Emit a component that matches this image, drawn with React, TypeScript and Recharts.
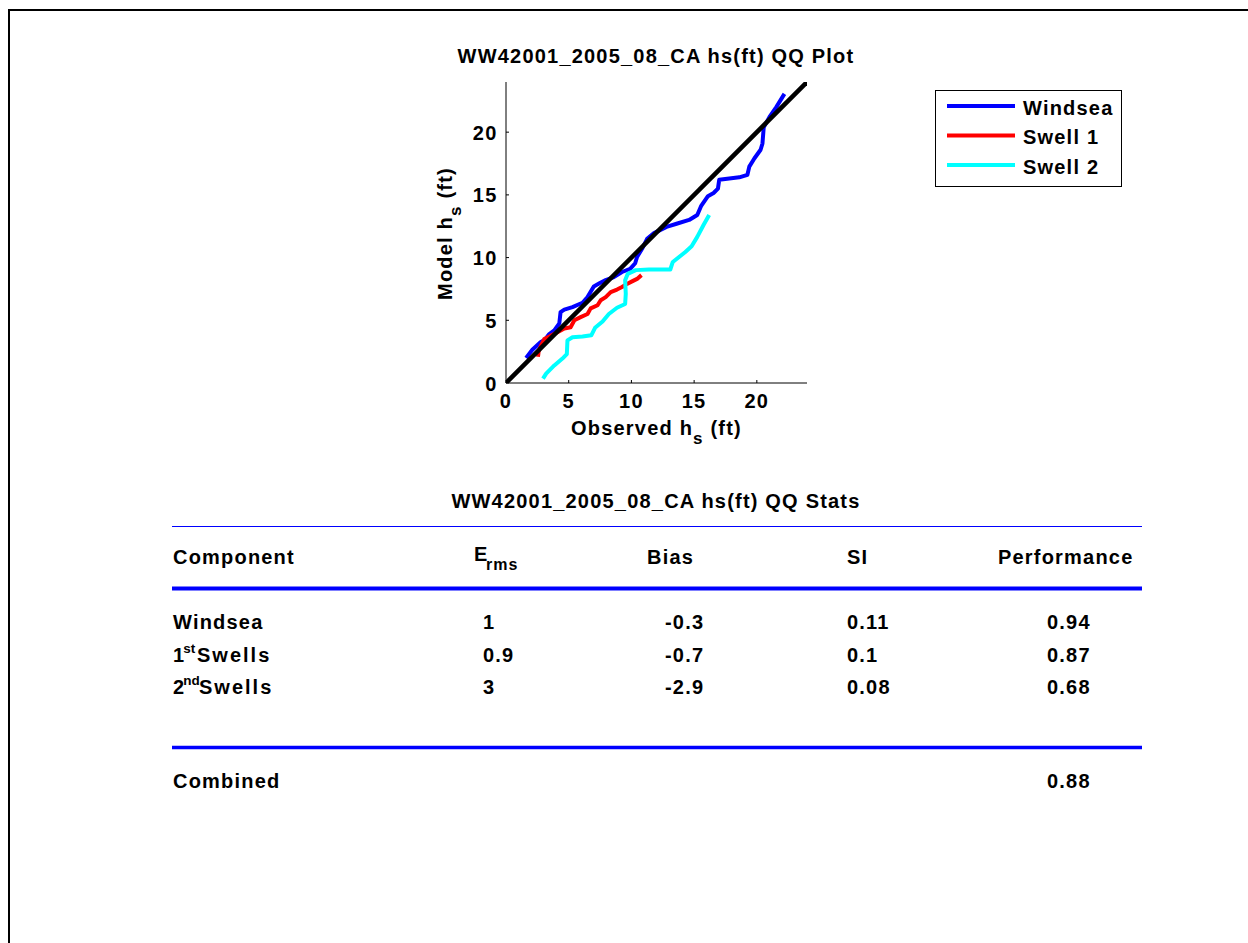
import React from 'react';
import { LineChart, Line, XAxis, YAxis, Legend } from 'recharts';

const FONT = '"Liberation Sans", Arial, Helvetica, sans-serif';

const windsea = [
  { x: 1.6, y: 2.0 }, { x: 2.1, y: 2.65 }, { x: 2.75, y: 3.25 }, { x: 3.1, y: 3.45 },
  { x: 3.45, y: 3.9 }, { x: 3.85, y: 4.2 }, { x: 4.25, y: 4.75 }, { x: 4.35, y: 5.65 },
  { x: 4.65, y: 5.85 }, { x: 5.3, y: 6.05 }, { x: 6.1, y: 6.4 }, { x: 6.5, y: 6.85 },
  { x: 7.0, y: 7.7 }, { x: 7.45, y: 7.95 }, { x: 7.95, y: 8.2 }, { x: 8.6, y: 8.45 },
  { x: 9.25, y: 8.85 }, { x: 9.9, y: 9.1 }, { x: 10.3, y: 9.55 }, { x: 10.45, y: 10.05 },
  { x: 10.85, y: 10.7 }, { x: 11.25, y: 11.5 }, { x: 11.8, y: 11.95 }, { x: 12.8, y: 12.45 },
  { x: 13.6, y: 12.7 }, { x: 14.6, y: 13.0 }, { x: 15.25, y: 13.4 }, { x: 15.55, y: 14.1 },
  { x: 16.1, y: 14.9 }, { x: 16.55, y: 15.15 }, { x: 16.9, y: 15.5 }, { x: 17.0, y: 16.2 },
  { x: 17.8, y: 16.3 }, { x: 18.6, y: 16.4 }, { x: 19.25, y: 16.6 }, { x: 19.4, y: 17.25 },
  { x: 19.8, y: 17.9 }, { x: 20.3, y: 18.6 }, { x: 20.45, y: 19.1 }, { x: 20.55, y: 20.4 },
  { x: 21.0, y: 21.2 }, { x: 21.55, y: 22.0 }, { x: 22.2, y: 23.05 },
];

const swell1 = [
  { x: 2.55, y: 2.1 }, { x: 2.6, y: 2.5 }, { x: 2.75, y: 2.9 }, { x: 3.05, y: 3.5 },
  { x: 3.45, y: 3.7 }, { x: 4.1, y: 4.05 }, { x: 4.65, y: 4.35 }, { x: 5.15, y: 4.45 },
  { x: 5.45, y: 5.0 }, { x: 5.95, y: 5.25 }, { x: 6.5, y: 5.5 }, { x: 6.75, y: 5.95 },
  { x: 7.3, y: 6.2 }, { x: 7.55, y: 6.6 }, { x: 7.95, y: 6.85 }, { x: 8.35, y: 7.25 },
  { x: 8.85, y: 7.45 }, { x: 9.25, y: 7.65 }, { x: 9.65, y: 7.9 }, { x: 10.05, y: 8.1 },
  { x: 10.45, y: 8.3 }, { x: 10.8, y: 8.6 },
];

const swell2 = [
  { x: 2.95, y: 0.35 }, { x: 3.2, y: 0.75 }, { x: 3.85, y: 1.4 }, { x: 4.5, y: 1.95 },
  { x: 4.85, y: 2.3 }, { x: 4.9, y: 3.4 }, { x: 5.3, y: 3.65 }, { x: 6.1, y: 3.7 },
  { x: 6.8, y: 3.8 }, { x: 7.1, y: 4.4 }, { x: 7.7, y: 4.9 }, { x: 8.2, y: 5.5 },
  { x: 8.85, y: 6.0 }, { x: 9.5, y: 6.3 }, { x: 9.55, y: 7.1 }, { x: 9.5, y: 8.2 },
  { x: 9.7, y: 8.7 }, { x: 10.35, y: 9.0 }, { x: 11.4, y: 9.05 }, { x: 12.45, y: 9.05 },
  { x: 13.1, y: 9.05 }, { x: 13.3, y: 9.65 }, { x: 13.8, y: 10.05 }, { x: 14.3, y: 10.45 },
  { x: 14.8, y: 10.9 }, { x: 15.25, y: 11.65 }, { x: 15.75, y: 12.6 }, { x: 16.2, y: 13.4 },
];

const diagonal = [{ x: 0, y: 0 }, { x: 24, y: 24 }];
const axisTicks = [0, 5, 10, 15, 20];
const seriesNames = ['Windsea', 'Swell 1', 'Swell 2'];

const plotTitle = 'WW42001_2005_08_CA hs(ft) QQ Plot';
const tableTitle = 'WW42001_2005_08_CA hs(ft) QQ Stats';
// [base, superscript, rest]
const rowNames = [['Windsea', '', ''], ['1', 'st', 'Swells'], ['2', 'nd', 'Swells']];
const ermsValues = ['1', '0.9', '3'];
const biasValues = ['-0.3', '-0.7', '-2.9'];
const siValues = ['0.11', '0.1', '0.08'];
const perfValues = ['0.94', '0.87', '0.68'];
const combinedPerf = '0.88';

const txt: any = {
  fontFamily: FONT,
  fontWeight: 'bold',
  fontSize: 20,
  fill: '#000',
  style: { letterSpacing: '1.2px' },
};

const XTick = (p: any) => (
  <text x={p.x} y={p.y} textAnchor="middle" {...txt}>{p.payload.value}</text>
);

const YTick = (p: any) => (
  <text x={p.x} y={p.y + 7.5} textAnchor="end" {...txt}>{p.payload.value}</text>
);

const XLabel = (p: any) => {
  const vb = p.viewBox || {};
  return (
    <text x={vb.x + vb.width / 2} y={vb.y + 52} textAnchor="middle" {...txt}>
      Observed h<tspan fontSize={17} dy={9}>s</tspan><tspan dy={-9}> (ft)</tspan>
    </text>
  );
};

const YLabel = (p: any) => {
  const vb = p.viewBox || {};
  const bx = vb.x + 5.5;
  const cy = vb.y + vb.height / 2 + 1;
  return (
    <text x={bx} y={cy} textAnchor="middle" transform={`rotate(-90, ${bx}, ${cy})`} {...txt}>
      Model h<tspan fontSize={17} dy={9}>s</tspan><tspan dy={-9}> (ft)</tspan>
    </text>
  );
};

const LegendBox = (props: any) => {
  const items = (props.payload || [])
    .filter((e: any) => seriesNames.includes(e.value))
    .sort((a: any, b: any) => seriesNames.indexOf(a.value) - seriesNames.indexOf(b.value));
  return (
    <svg width={187} height={97} style={{ display: 'block' }}>
      <rect x={0.5} y={0.5} width={186} height={96} fill="#fff" stroke="#000" />
      {items.map((e: any, i: number) => {
        const cy = 16 + i * 29.5;
        return (
          <g key={e.value}>
            <line x1={12} x2={80} y1={cy} y2={cy} stroke={e.color} strokeWidth={4} />
            <text x={88} y={cy + 8.5} {...txt}>{e.value}</text>
          </g>
        );
      })}
    </svg>
  );
};

const RowName = ({ parts, y }: { parts: string[]; y: number }) => {
  if (!parts[1]) return <text x={173} y={y} {...txt}>{parts[0]}</text>;
  const restX = parts[1] === 'st' ? 197 : 199;
  return (
    <text x={173} y={y} {...txt}>
      {parts[0]}
      <tspan dx={-2} dy={-9} fontSize={13.5} style={{ letterSpacing: '0px' }}>{parts[1]}</tspan>
      <tspan x={restX} dy={9} style={{ letterSpacing: '2px' }}>{parts[2]}</tspan>
    </text>
  );
};

const rowY = [628.5, 661.5, 693.5];

export default function App() {
  return (
    <div style={{ position: 'absolute', left: 0, top: 0, width: 1248, height: 943, background: '#fff', overflow: 'hidden' }}>
      <div
        style={{
          position: 'absolute', left: 8, top: 9, width: 1260, height: 960,
          borderLeft: '2px solid #000', borderTop: '2px solid #000',
        }}
      />
      <div style={{ position: 'absolute', left: 0, top: 0 }}>
        <LineChart width={1248} height={943} margin={{ top: 82, right: 441, bottom: 500, left: 446 }}>
          <XAxis
            type="number"
            dataKey="x"
            domain={[0, 24]}
            ticks={axisTicks}
            allowDataOverflow
            height={60}
            axisLine={{ stroke: '#000', strokeWidth: 1 }}
            tickLine={{ stroke: '#000', strokeWidth: 1 }}
            tickSize={-3}
            tickMargin={28}
            tick={XTick}
            label={XLabel}
          />
          <YAxis
            type="number"
            dataKey="y"
            domain={[0, 24]}
            ticks={axisTicks}
            allowDataOverflow
            width={60}
            axisLine={{ stroke: '#000', strokeWidth: 1 }}
            tickLine={{ stroke: '#000', strokeWidth: 1 }}
            tickSize={-3}
            tickMargin={11.5}
            tick={YTick}
            label={YLabel}
          />
          <Legend
            layout="vertical"
            align="center"
            verticalAlign="middle"
            content={LegendBox}
            wrapperStyle={{ left: 935, top: 90, width: 187, height: 97 }}
          />
          <Line data={windsea} dataKey="y" name="Windsea" stroke="#0000ff" strokeWidth={4} dot={false} isAnimationActive={false} strokeLinejoin="round" />
          <Line data={swell1} dataKey="y" name="Swell 1" stroke="#ff0000" strokeWidth={4} dot={false} isAnimationActive={false} strokeLinejoin="round" />
          <Line data={swell2} dataKey="y" name="Swell 2" stroke="#00ffff" strokeWidth={4} dot={false} isAnimationActive={false} strokeLinejoin="round" />
          <Line data={diagonal} dataKey="y" name="1:1" stroke="#000" strokeWidth={4.5} dot={false} legendType="none" isAnimationActive={false} />
        </LineChart>
      </div>
      <svg width={1248} height={943} style={{ position: 'absolute', left: 0, top: 0, pointerEvents: 'none' }}>
        <text x={656} y={63} textAnchor="middle" {...txt}>{plotTitle}</text>
        <text x={656} y={508} textAnchor="middle" {...txt}>{tableTitle}</text>

        <line x1={172} x2={1142} y1={526.5} y2={526.5} stroke="#0000ff" strokeWidth={1} />
        <text x={173} y={564} {...txt}>Component</text>
        <text x={474} y={561} {...txt}>E<tspan x={486} dy={9} fontSize={16} style={{ letterSpacing: '1px' }}>rms</tspan></text>
        <text x={647} y={564} {...txt}>Bias</text>
        <text x={847} y={564} {...txt}>SI</text>
        <text x={998} y={564} {...txt}>Performance</text>
        <line x1={172} x2={1142} y1={588.5} y2={588.5} stroke="#0000ff" strokeWidth={4} />

        {rowNames.map((parts, i) => (
          <g key={i}>
            <RowName parts={parts} y={rowY[i]} />
            <text x={483} y={rowY[i]} {...txt}>{ermsValues[i]}</text>
            <text x={665} y={rowY[i]} {...txt}>{biasValues[i]}</text>
            <text x={847} y={rowY[i]} {...txt}>{siValues[i]}</text>
            <text x={1047} y={rowY[i]} {...txt}>{perfValues[i]}</text>
          </g>
        ))}

        <line x1={172} x2={1142} y1={747.5} y2={747.5} stroke="#0000ff" strokeWidth={3.5} />
        <text x={173} y={788} {...txt}>Combined</text>
        <text x={1047} y={788} {...txt}>{combinedPerf}</text>
      </svg>
    </div>
  );
}
